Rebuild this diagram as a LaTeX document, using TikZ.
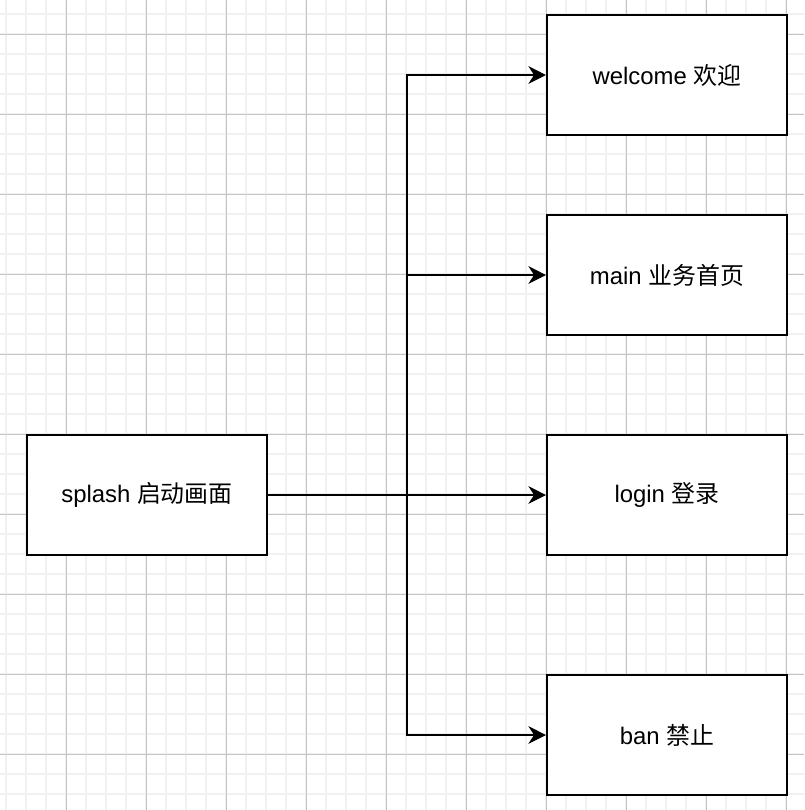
\documentclass[tikz,border=0pt]{standalone}
\usepackage{fontspec}
\setmainfont{Liberation Sans}
\newfontfamily\cjk{Noto Sans CJK SC}
\usetikzlibrary{arrows.meta}
\definecolor{MinorClr}{HTML}{F1F1F1}
\definecolor{MajorClr}{HTML}{C4C4C4}

\tikzset{
  pagebox/.style={draw=black,line width=1.4pt,fill=white,minimum width=6cm,minimum height=3cm,inner sep=0pt,font=\fontsize{17}{20}\selectfont},
  jump/.style={line width=1.1pt,-{Stealth[length=12.5pt,width=12.5pt,inset=4pt]}}
}

\begin{document}
\begin{tikzpicture}[x=0.025cm,y=-0.025cm]
\useasboundingbox (0,0) rectangle (804,810);
\fill[white] (0,0) rectangle (804,810);

% grid
\foreach \x in {6,26,...,804} \draw[MinorClr,line width=1.4pt] (\x,0) -- (\x,810);
\foreach \y in {14,34,...,810} \draw[MinorClr,line width=1.4pt] (0,\y) -- (804,\y);
\foreach \x in {66,146,...,804} \draw[MajorClr,line width=0.6pt] (\x,0) -- (\x,810);
\foreach \y in {34,114,...,810} \draw[MajorClr,line width=0.6pt] (0,\y) -- (804,\y);

% pages
\node[pagebox] (splash) at (147,495) {splash {\cjk 启动画面}};
\node[pagebox] (welcome) at (667,75) {welcome {\cjk 欢迎}};
\node[pagebox] (main) at (667,275) {main {\cjk 业务首页}};
\node[pagebox] (login) at (667,495) {login {\cjk 登录}};
\node[pagebox] (ban) at (667,735) {ban {\cjk 禁止}};

\coordinate (fork) at (407,495);

% routes
\draw[jump] (splash.east) -- (login.west);
\draw[jump] (fork) |- (welcome.west);
\draw[jump] (fork) |- (main.west);
\draw[jump] (fork) |- (ban.west);

\end{tikzpicture}
\end{document}
